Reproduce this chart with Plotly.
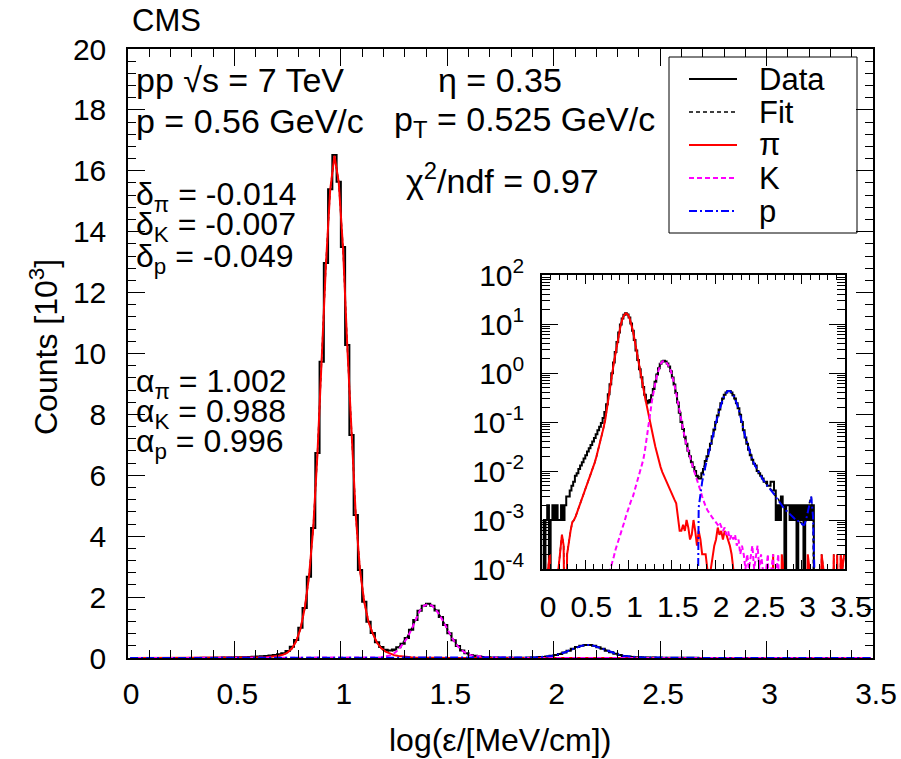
import plotly.graph_objects as go

W, H = 901, 759
BIN_WIDTH = 0.02

# Counts per bin of 0.02 in log(eps/[MeV/cm]) from 0 to 3.5, in units of 10^3
data_counts = [
    0.001, 0, 0.001, 0.002, 0, 0.001, 0.002, 0.001, 0.002, 0.001,
    0.001, 0.002, 0.001, 0.002, 0.003, 0.003, 0.004, 0.005, 0.006, 0.008,
    0.009, 0.011, 0.013, 0.015, 0.018, 0.021, 0.025, 0.029, 0.034, 0.040,
    0.047, 0.056, 0.068, 0.080, 0.095, 0.120, 0.160, 0.230, 0.370, 0.590,
    0.99, 1.64, 2.67, 4.27, 6.73, 9.73, 12.97, 15.39, 16.52, 15.64,
    13.50, 10.28, 7.32, 4.70, 2.89, 1.85, 1.19, 0.82, 0.52, 0.36,
    0.27, 0.25, 0.28, 0.35, 0.47, 0.66, 0.93, 1.25, 1.55, 1.72,
    1.78, 1.72, 1.56, 1.35, 1.08, 0.81, 0.58, 0.39, 0.25, 0.155,
    0.100, 0.072, 0.050, 0.036, 0.026, 0.020, 0.015, 0.012, 0.010, 0.008,
    0.007, 0.007, 0.009, 0.011, 0.016, 0.020, 0.027, 0.036, 0.051, 0.070,
    0.100, 0.135, 0.180, 0.240, 0.300, 0.360, 0.400, 0.430, 0.430, 0.400,
    0.350, 0.300, 0.240, 0.190, 0.140, 0.100, 0.068, 0.048, 0.036, 0.027,
    0.021, 0.017, 0.014, 0.013, 0.010, 0.009, 0.008, 0.007, 0.006, 0.006,
    0.005, 0.005, 0.006, 0.006, 0.004, 0.001, 0.002, 0.001, 0.003, 0.002,
    0, 0.002, 0.002, 0.001, 0.002, 0.001, 0.002, 0, 0.002, 0.001,
    0.002, 0, 0.002, 0.001, 0.002, 0.001, 0.002, 0, 0, 0,
    0, 0, 0, 0, 0, 0, 0, 0, 0, 0,
    0, 0, 0, 0, 0,
]

pion = [
    0, 0, 0, 0.0001, 0.0002, 0, 0, 0, 0, 0.0001,
    0.0002, 0.0005, 0.0003, 0, 0.0002, 0.0004, 0.0006, 0.0009, 0.0010, 0.0012,
    0.0015, 0.0019, 0.0024, 0.0030, 0.0037, 0.0046, 0.0058, 0.0073, 0.0092, 0.0115,
    0.0150, 0.0200, 0.0270, 0.0370, 0.0520, 0.0750, 0.1100, 0.1800, 0.3100, 0.5500,
    0.95, 1.62, 2.65, 4.25, 6.70, 9.70, 12.95, 15.38, 16.50, 15.63,
    13.48, 10.26, 7.30, 4.69, 2.88, 1.84, 1.18, 0.80, 0.50, 0.32,
    0.21, 0.14, 0.095, 0.065, 0.045, 0.031, 0.022, 0.016, 0.012, 0.0095,
    0.0078, 0.0065, 0.0055, 0.0045, 0.0038, 0.0032, 0.0026, 0.0022, 0.0012, 0.0006,
    0.0006, 0.0008, 0.0006, 0.0010, 0.0007, 0.0004, 0.0005, 0.0010, 0.0006, 0.0003,
    0.0006, 0.0004, 0.0002, 0.0002, 0.0002, 0.0001, 0, 0.0001, 0.0002, 0.0003,
    0.0004, 0.0007, 0.0005, 0.0006, 0.0004, 0.0006, 0.0005, 0.0004, 0.0003, 0.0002,
    0.0001, 0, 0, 0, 0, 0, 0, 0, 0, 0,
    0, 0, 0, 0, 0, 0, 0, 0, 0, 0,
    0, 0, 0, 0.0002, 0, 0.0001, 0, 0, 0.0002, 0.0001,
    0, 0, 0, 0, 0, 0, 0, 0, 0, 0,
    0, 0, 0, 0.0002, 0.0001, 0, 0, 0, 0, 0,
    0, 0.0002, 0.0001, 0, 0, 0, 0, 0, 0.0002, 0,
    0.0002, 0, 0.0002, 0.0001, 0.0002,
]

kaon = [
    0, 0, 0, 0, 0, 0, 0, 0, 0, 0,
    0, 0, 0, 0, 0, 0, 0, 0, 0, 0,
    0, 0, 0, 0, 0, 0, 0, 0, 0, 0,
    0, 0, 0, 0, 0, 0, 0, 0, 0, 0.0001,
    0.00013, 0.00018, 0.00025, 0.00032, 0.0004, 0.0005, 0.0007, 0.0009, 0.0012, 0.0016,
    0.0020, 0.0025, 0.0030, 0.0040, 0.0052, 0.0070, 0.0095, 0.0125, 0.017, 0.027,
    0.045, 0.085, 0.15, 0.27, 0.45, 0.64, 0.91, 1.24, 1.54, 1.71,
    1.77, 1.71, 1.55, 1.34, 1.07, 0.80, 0.57, 0.38, 0.245, 0.15,
    0.095, 0.068, 0.047, 0.034, 0.025, 0.019, 0.014, 0.011, 0.0085, 0.0068,
    0.0052, 0.0040, 0.0030, 0.0023, 0.0019, 0.0016, 0.0014, 0.0012, 0.0011, 0.0010,
    0.0009, 0.0008, 0.0009, 0.0007, 0.0006, 0.0007, 0.0005, 0.0006, 0.0004, 0.0005,
    0.0004, 0.0005, 0.0003, 0.0004, 0.0002, 0.0003, 0.0002, 0.0001, 0.0002, 0.0001,
    0.0002, 0.0003, 0.0001, 0.0002, 0.0003, 0.0001, 0.0002, 0.0001, 0, 0.0001,
    0.0002, 0, 0.0001, 0.0002, 0, 0.0001, 0.0002, 0, 0.0001, 0,
    0, 0, 0, 0, 0, 0, 0, 0, 0, 0,
    0, 0, 0, 0, 0, 0, 0, 0, 0, 0,
    0, 0, 0, 0, 0, 0, 0, 0, 0, 0,
    0, 0, 0, 0, 0,
]

proton = [
    0, 0, 0, 0, 0, 0, 0, 0, 0, 0,
    0, 0, 0, 0, 0, 0, 0, 0, 0, 0,
    0, 0, 0, 0, 0, 0, 0, 0, 0, 0,
    0, 0, 0, 0, 0, 0, 0, 0, 0, 0,
    0, 0, 0, 0, 0, 0, 0, 0, 0, 0,
    0, 0, 0, 0, 0, 0, 0, 0, 0, 0,
    0, 0, 0, 0, 0, 0, 0, 0, 0, 0,
    0, 0, 0, 0, 0, 0, 0, 0, 0, 0,
    0, 0, 0, 0, 0, 0, 0, 0, 0, 0,
    0.0018, 0.0035, 0.0060, 0.0090, 0.0135, 0.0185, 0.0250, 0.0340, 0.0490, 0.0690,
    0.099, 0.134, 0.179, 0.239, 0.299, 0.359, 0.399, 0.429, 0.429, 0.399,
    0.350, 0.300, 0.240, 0.190, 0.140, 0.100, 0.068, 0.048, 0.036, 0.027,
    0.021, 0.017, 0.014, 0.012, 0.010, 0.0088, 0.0078, 0.0068, 0.0060, 0.0054,
    0.0048, 0.0044, 0.0040, 0.0036, 0.0032, 0.0028, 0.0025, 0.0022, 0.0020, 0.0018,
    0.0016, 0.0015, 0.0014, 0.0013, 0.0012, 0.0011, 0.0010, 0.0010, 0.0009, 0.0009,
    0.0008, 0.0008, 0.0010, 0.0014, 0.0022, 0.0030, 0.0012, 0, 0, 0,
    0, 0, 0, 0, 0, 0, 0, 0, 0, 0,
    0, 0, 0, 0, 0,
]

x_ticks_main = [0, 0.5, 1, 1.5, 2, 2.5, 3, 3.5]
y_ticks_main = [0, 2, 4, 6, 8, 10, 12, 14, 16, 18, 20]
inset_decades = [-4, -3, -2, -1, 0, 1, 2]

n = len(data_counts)
x_centers = [BIN_WIDTH * (i + 0.5) for i in range(n)]
fit = [a + b + c for a, b, c in zip(pion, kaon, proton)]


def log_safe(vals):
    # empty bins drop below the log axis (as in the original drawing)
    return [v if v > 0 else 1e-7 for v in vals]


FONT = "Liberation Sans"
FS = 31

styles = [
    ("Data", data_counts, dict(color="black", width=2, shape="hvh")),
    ("Fit", fit, dict(color="black", width=1.5, dash="4px,3px")),
    ("π", pion, dict(color="#ff0000", width=2)),
    ("K", kaon, dict(color="#ff00ff", width=2, dash="5px,3px")),
    ("p", proton, dict(color="#0000ff", width=2, dash="8px,3px,2px,3px")),
]

fig = go.Figure()
for name, vals, line in styles:
    fig.add_trace(go.Scatter(x=x_centers, y=vals, mode="lines", line=line,
                             name=name, showlegend=False, xaxis="x", yaxis="y"))
for name, vals, line in styles:
    fig.add_trace(go.Scatter(x=x_centers, y=log_safe(vals), mode="lines", line=dict(line),
                             name=name, showlegend=False, xaxis="x2", yaxis="y2"))


def px_x(p):
    return p / W


def px_y(p):
    return 1 - p / H


axis_common = dict(showgrid=False, zeroline=False, showline=True, linecolor="black",
                   linewidth=1.5, mirror="ticks", ticks="inside", tickcolor="black",
                   tickwidth=1, automargin=False,
                   tickfont=dict(family=FONT, size=30, color="black"))

fig.update_layout(
    width=W, height=H, autosize=False,
    margin=dict(l=0, r=0, t=0, b=0, pad=0, autoexpand=False),
    showlegend=False,
    paper_bgcolor="white", plot_bgcolor="white",
    font=dict(family=FONT, size=FS, color="black"),
    xaxis=dict(domain=[px_x(128), px_x(873)], range=[0, 3.5], anchor="y",
               tickmode="array", tickvals=x_ticks_main, ticklen=17,
               ticklabelstandoff=8, ticklabelshift=3,
               minor=dict(dtick=0.1, ticklen=8, ticks="inside", tickcolor="black", tickwidth=1),
               **axis_common),
    yaxis=dict(domain=[px_y(658), px_y(49)], range=[0, 20], anchor="x",
               tickmode="array", tickvals=y_ticks_main, ticklen=17,
               ticklabelstandoff=14,
               minor=dict(dtick=0.4, ticklen=8, ticks="inside", tickcolor="black", tickwidth=1),
               **axis_common),
    xaxis2=dict(domain=[px_x(542), px_x(845)], range=[0, 3.5], anchor="y2",
                tickmode="array", tickvals=x_ticks_main, ticklen=9,
                ticklabelstandoff=10, ticklabelshift=6,
                minor=dict(dtick=0.1, ticklen=5, ticks="inside", tickcolor="black", tickwidth=1),
                **axis_common),
    yaxis2=dict(domain=[px_y(569), px_y(275)], type="log", range=[-4, 2], anchor="x2",
                tickmode="array", tickvals=[10 ** d for d in inset_decades],
                ticktext=["10<sup>%d</sup>" % d for d in inset_decades],
                ticklen=16, ticklabelstandoff=10,
                minor=dict(tickmode="array",
                           tickvals=[m * 10 ** d for d in inset_decades[:-1] for m in range(2, 10)],
                           ticklen=8, ticks="inside", tickcolor="black", tickwidth=1),
                **axis_common),
)

ann = []


def text(s, x, y, xanchor="left", size=FS, angle=0):
    ann.append(dict(text=s, x=px_x(x), y=px_y(y), xref="paper", yref="paper",
                    xanchor=xanchor, yanchor="middle", showarrow=False,
                    textangle=angle, font=dict(family=FONT, size=size, color="black")))


text("CMS", 130, 21)
text("pp √s = 7 TeV", 134, 80, size=34)
text("p = 0.56 GeV/c", 134, 121, size=34)
text("η = 0.35", 436, 80, size=34)
text("p<sub>T</sub> = 0.525 GeV/c", 392, 121, size=34)
text("χ<sup>2</sup>/ndf = 0.97", 404, 178, size=34)
text("δ<sub>π</sub> = -0.014", 134, 196, size=32)
text("δ<sub>K</sub> = -0.007", 134, 227, size=32)
text("δ<sub>p</sub> = -0.049", 134, 258, size=32)
text("α<sub>π</sub> = 1.002", 134, 383, size=32)
text("α<sub>K</sub> = 0.988", 134, 413, size=32)
text("α<sub>p</sub> = 0.996", 134, 443, size=32)
text("log(ε/[MeV/cm])", 500, 740, xanchor="center", size=32)
text("Counts [10<sup>3</sup>]", 44, 347, xanchor="center", angle=-90, size=32)

# legend box
shapes = [dict(type="rect", xref="paper", yref="paper", x0=px_x(669), x1=px_x(857),
               y0=px_y(233), y1=px_y(57), line=dict(color="black", width=1),
               fillcolor="rgba(0,0,0,0)", layer="above")]
leg_y = [79, 112, 145, 178, 211]
for (name, _, line), yy in zip(styles, leg_y):
    dash = line.get("dash", "solid")
    shapes.append(dict(type="line", xref="paper", yref="paper", x0=px_x(689), x1=px_x(737),
                       y0=px_y(yy), y1=px_y(yy),
                       line=dict(color=line["color"], width=line["width"], dash=dash)))
    text(name, 757, yy)

fig.update_layout(annotations=ann, shapes=shapes)
fig.write_html("out.html", config={"displayModeBar": False},
               post_script="document.body.style.margin='0px';document.body.style.overflow='hidden';")
